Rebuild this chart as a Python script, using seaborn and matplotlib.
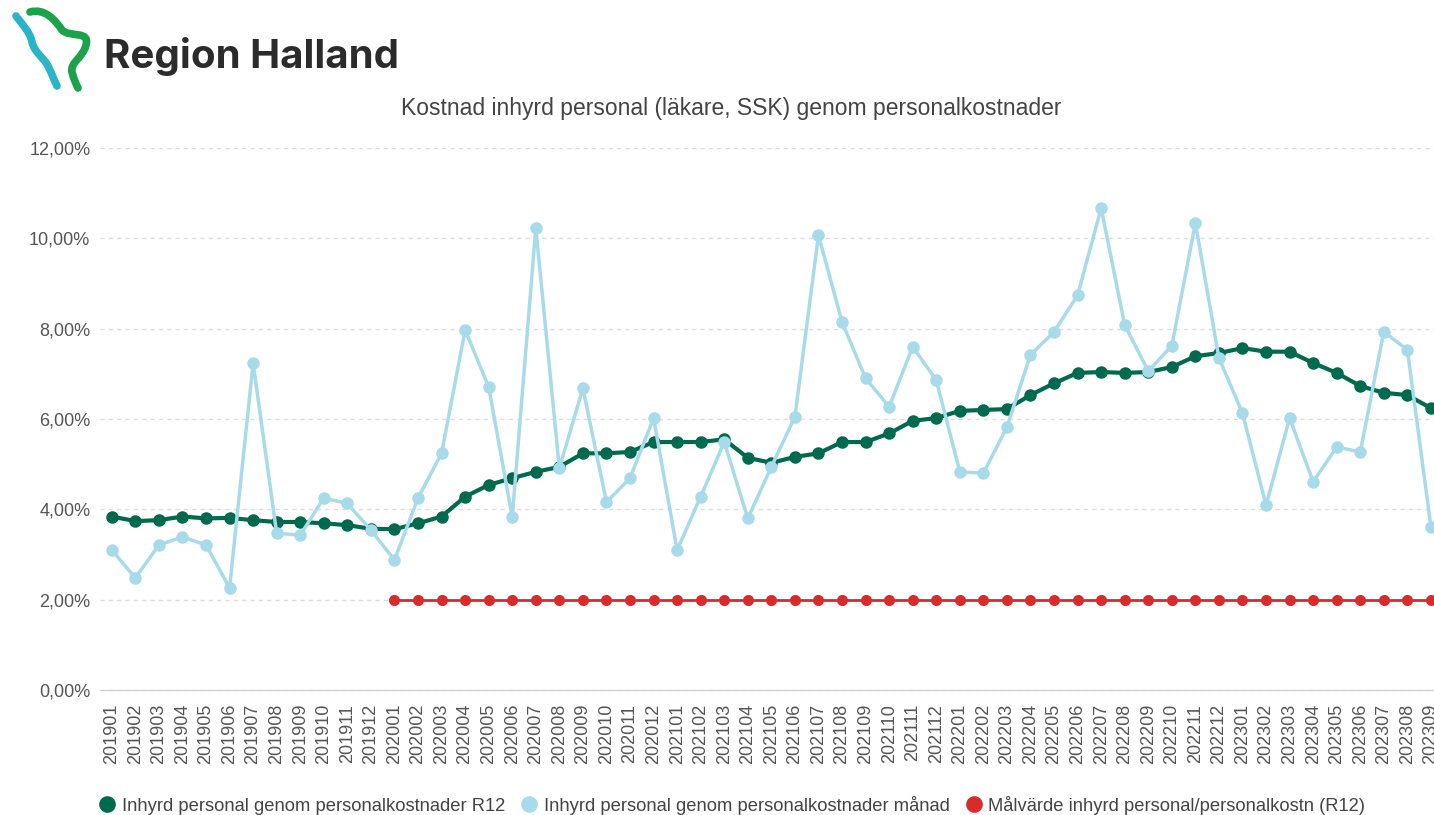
import numpy as np
import pandas as pd
import matplotlib
matplotlib.use("Agg")
import matplotlib.pyplot as plt
from matplotlib.path import Path
from matplotlib.patches import PathPatch
from matplotlib.lines import Line2D
from matplotlib.ticker import FuncFormatter
import seaborn as sns

# months 201901 .. 202309
months = ["%d%02d" % (y, m) for y in range(2019, 2024) for m in range(1, 13)][:57]

# R12 (rolling 12 months), percent
r12 = [3.84, 3.74, 3.76, 3.84, 3.80, 3.81, 3.76, 3.72, 3.72, 3.69, 3.65, 3.57,
       3.56, 3.69, 3.84, 4.28, 4.54, 4.69, 4.83, 4.94, 5.24, 5.24, 5.27, 5.49,
       5.49, 5.49, 5.55, 5.14, 5.03, 5.16, 5.24, 5.49, 5.49, 5.68, 5.96, 6.02,
       6.18, 6.20, 6.22, 6.53, 6.79, 7.02, 7.04, 7.02, 7.04, 7.15, 7.39, 7.46,
       7.57, 7.49, 7.49, 7.24, 7.02, 6.73, 6.58, 6.53, 6.24]

# monthly value, percent
manad = [3.10, 2.48, 3.21, 3.39, 3.21, 2.26, 7.24, 3.47, 3.43, 4.25, 4.13, 3.54,
         2.88, 4.25, 5.24, 7.97, 6.71, 3.83, 10.23, 4.91, 6.68, 4.16, 4.69, 6.02,
         3.10, 4.28, 5.49, 3.80, 4.94, 6.05, 10.07, 8.15, 6.90, 6.27, 7.60, 6.86,
         4.83, 4.80, 5.82, 7.42, 7.93, 8.74, 10.67, 8.08, 7.06, 7.62, 10.34, 7.35,
         6.13, 4.09, 6.02, 4.61, 5.38, 5.27, 7.93, 7.53, 3.61]

# target value, from 202001
malvarde = [np.nan] * 12 + [2.0] * 45

names = ["Inhyrd personal genom personalkostnader R12",
         "Inhyrd personal genom personalkostnader månad",
         "Målvärde inhyrd personal/personalkostn (R12)"]
colors = ["#006a4e", "#a8dbe9", "#d92b2b"]

df = pd.DataFrame({"idx": np.arange(len(months)), "r12": r12, "manad": manad, "mal": malvarde})

sns.set_style("white")
plt.rcParams["font.family"] = ["Liberation Sans", "DejaVu Sans"]

fig = plt.figure(figsize=(14.34, 8.15), dpi=100)
ax = fig.add_axes([100 / 1434, 125 / 815, 1334 / 1434, 542 / 815])

sns.lineplot(data=df, x="idx", y="r12", ax=ax, color=colors[0], lw=3, marker="o",
             markersize=9, markeredgewidth=0, zorder=3)
sns.lineplot(data=df, x="idx", y="manad", ax=ax, color=colors[1], lw=2.5, marker="o",
             markersize=9, markeredgewidth=0, zorder=4)
sns.lineplot(data=df.dropna(), x="idx", y="mal", ax=ax, color=colors[2], lw=2, marker="o",
             markersize=8, markeredgewidth=0, zorder=5)

ax.set_xlim(-0.5, 56.13)
ax.set_ylim(0, 12)
ax.set_yticks(np.arange(0, 13, 2))
ax.yaxis.set_major_formatter(FuncFormatter(lambda v, p: ("%.2f%%" % v).replace(".", ",")))
ax.set_xticks(df["idx"])
ax.set_xticklabels(months, rotation=90)
ax.set_xlabel("")
ax.set_ylabel("")
ax.grid(axis="y", color="#dddddd", ls=(0, (3, 3)), lw=1)
ax.grid(axis="x", visible=False)
for s in ["top", "right", "left"]:
    ax.spines[s].set_visible(False)
ax.spines["bottom"].set_color("#cccccc")
ax.tick_params(axis="x", colors="#555555", labelsize=13, length=6, width=1,
               direction="out", pad=4)
ax.tick_params(axis="x", color="#cccccc")
ax.tick_params(axis="y", colors="#555555", labelsize=13, length=0, pad=7)
ax.set_axisbelow(True)

fig.text(0.51, 0.867, "Kostnad inhyrd personal (läkare, SSK) genom personalkostnader",
         ha="center", va="center", fontsize=16.5, color="#444444")

# legend
handles = [Line2D([], [], ls="", marker="o", markersize=11, color=c) for c in colors]
fig.legend(handles, names, loc="lower left", bbox_to_anchor=(0.057, -0.02), ncol=3,
           frameon=False, fontsize=13.2, handletextpad=0.3, columnspacing=0.8,
           labelcolor="#444444", handlelength=1.0)

# logo
lax = fig.add_axes([0, 1 - 95 / 815, 100 / 1434, 95 / 815])
lax.set_xlim(0, 100)
lax.set_ylim(95, 0)
lax.axis("off")
blue = Path([(16, 16), (22, 24), (30, 32), (32, 42), (34, 52), (44, 58), (48, 66),
             (52, 74), (54, 80), (57, 86)],
            [Path.MOVETO] + [Path.CURVE4] * 9)
green = Path([(30, 12), (45, 8), (55, 20), (62, 30), (70, 38), (90, 30), (86, 45),
              (83, 58), (70, 62), (72, 72), (74, 80), (76, 84), (78, 88)],
             [Path.MOVETO] + [Path.CURVE4] * 12)
lax.add_patch(PathPatch(blue, fc="none", ec="#2bb3c8", lw=5.5, capstyle="round"))
lax.add_patch(PathPatch(green, fc="none", ec="#1aa34a", lw=5.5, capstyle="round"))
fig.text(104 / 1434, 1 - 56 / 815, "Region Halland", fontsize=29, fontweight="bold",
         color="#2b2b2b", va="center", ha="left", family=["Inter", "Lato", "DejaVu Sans"])

fig.savefig("out.png", dpi=100, facecolor="white")
